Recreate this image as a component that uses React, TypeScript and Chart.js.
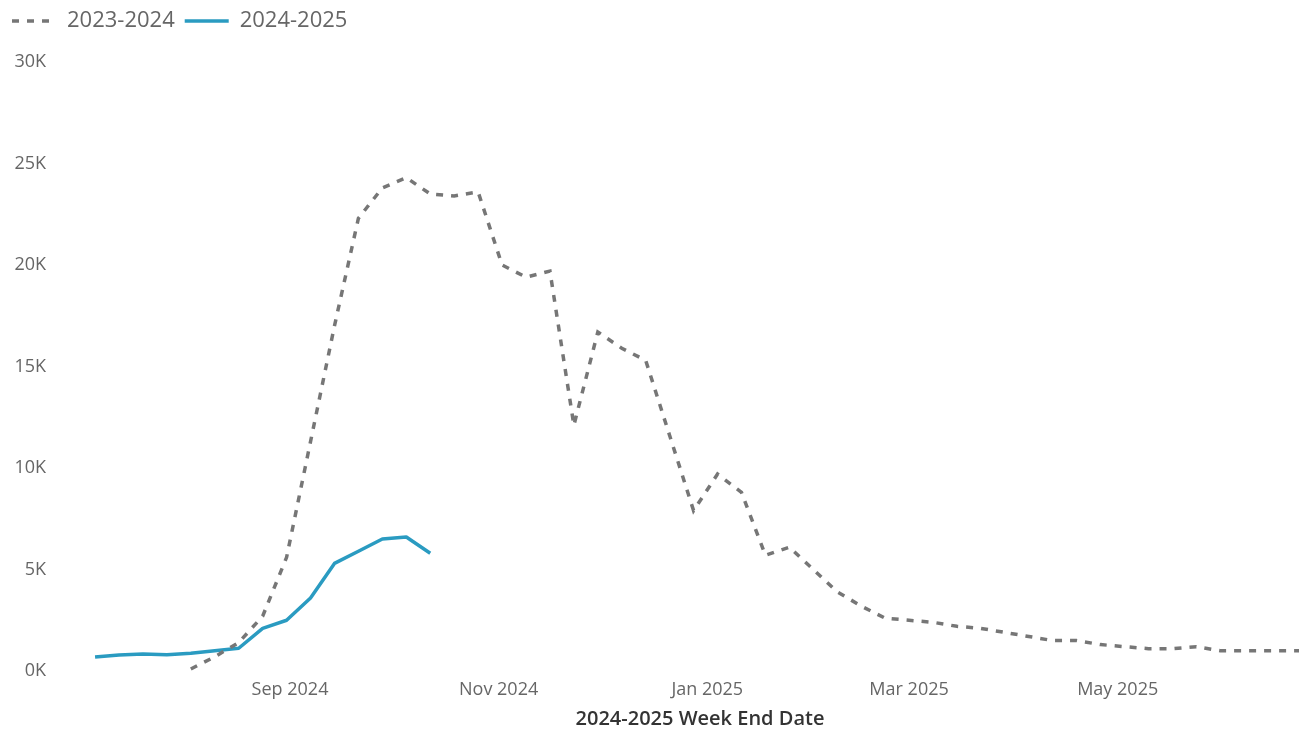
import { useEffect, useRef } from 'react';
import { Chart, registerables } from 'chart.js';

Chart.register(...registerables);

// ---------- data ----------
const seriesNames = ['2023-2024', '2024-2025'];

const weeks2324 = [
  '2024-08-03', '2024-08-10', '2024-08-17', '2024-08-24', '2024-08-31',
  '2024-09-07', '2024-09-14', '2024-09-21', '2024-09-28',
  '2024-10-05', '2024-10-12', '2024-10-19', '2024-10-26',
  '2024-11-02', '2024-11-09', '2024-11-16', '2024-11-23', '2024-11-30',
  '2024-12-07', '2024-12-14', '2024-12-21', '2024-12-28',
  '2025-01-04', '2025-01-11', '2025-01-18', '2025-01-25',
  '2025-02-01', '2025-02-08', '2025-02-15', '2025-02-22',
  '2025-03-01', '2025-03-08', '2025-03-15', '2025-03-22', '2025-03-29',
  '2025-04-05', '2025-04-12', '2025-04-19', '2025-04-26',
  '2025-05-03', '2025-05-10', '2025-05-17', '2025-05-24', '2025-05-31',
  '2025-06-07', '2025-06-14', '2025-06-21', '2025-06-28',
];
const values2324 = [
  100, 700, 1400, 2700, 5600,
  11300, 17000, 22300, 23800,
  24300, 23500, 23400, 23600,
  20000, 19400, 19700, 12100, 16700,
  15900, 15300, 11600, 7900,
  9700, 8800, 5700, 6100,
  5000, 3900, 3200, 2600,
  2500, 2400, 2200, 2100, 1900,
  1700, 1500, 1500, 1300,
  1200, 1100, 1100, 1200, 1000,
  1000, 1000, 1000, 1000,
];

const weeks2425 = [
  '2024-07-06', '2024-07-13', '2024-07-20', '2024-07-27',
  '2024-08-03', '2024-08-10', '2024-08-17', '2024-08-24', '2024-08-31',
  '2024-09-07', '2024-09-14', '2024-09-21', '2024-09-28',
  '2024-10-05', '2024-10-12',
];
const values2425 = [
  690, 790, 840, 800,
  870, 1000, 1120, 2100, 2500,
  3600, 5300, 5900, 6500,
  6600, 5800,
];

const xTickDates = ['2024-09-01', '2024-11-01', '2025-01-01', '2025-03-01', '2025-05-01'];
const xTickLabels = ['Sep 2024', 'Nov 2024', 'Jan 2025', 'Mar 2025', 'May 2025'];
const yTickValues = [0, 5000, 10000, 15000, 20000, 25000, 30000];
const xAxisTitle = '2024-2025 Week End Date';

// ---------- helpers ----------
const toMs = (s: string) => Date.parse(s + 'T00:00:00Z');
const X_MIN = Date.UTC(2024, 5, 25, 18);
const X_MAX = Date.UTC(2025, 6, 5, 0);

const FONT = "'Open Sans', 'Noto Sans', sans-serif";
const GRAY = '#767676';
const BLUE = '#2A9BC1';
const LABEL = '#666666';
const GRAY_DASH = [7, 8];

const legendSpacer = {
  id: 'legendSpacer',
  beforeUpdate(chart: any) {
    const lg = chart.legend;
    if (lg && !lg.__patched) {
      const orig = lg.fit;
      lg.fit = function () {
        orig.call(this);
        this.height += 20;
      };
      lg.__patched = true;
    }
  },
};

export default function App() {
  const ref = useRef<HTMLCanvasElement>(null);

  useEffect(() => {
    if (!ref.current) return;
    const baseGenerate = (Chart.defaults as any).plugins.legend.labels.generateLabels;
    const chart = new Chart(ref.current, {
      type: 'line',
      data: {
        datasets: [
          {
            label: seriesNames[0],
            data: weeks2324.map((d, i) => ({ x: toMs(d), y: values2324[i] })),
            borderColor: GRAY,
            backgroundColor: GRAY,
            borderWidth: 3.5,
            borderDash: GRAY_DASH,
            pointRadius: 0,
            tension: 0,
            fill: false,
          },
          {
            label: seriesNames[1],
            data: weeks2425.map((d, i) => ({ x: toMs(d), y: values2425[i] })),
            borderColor: BLUE,
            backgroundColor: BLUE,
            borderWidth: 3.5,
            borderJoinStyle: 'round',
            pointRadius: 0,
            tension: 0,
            fill: false,
          },
        ],
      },
      options: {
        responsive: false,
        animation: false,
        devicePixelRatio: 1,
        layout: { padding: { left: 2, top: 0, right: 0, bottom: 0 } },
        plugins: {
          tooltip: { enabled: false },
          legend: {
            position: 'top',
            align: 'start',
            labels: {
              usePointStyle: true,
              pointStyle: 'line',
              pointStyleWidth: 44,
              padding: 10,
              color: LABEL,
              font: { family: FONT, size: 22 },
              generateLabels: (c: any) =>
                baseGenerate(c).map((item: any) => {
                  const ds = c.data.datasets[item.datasetIndex];
                  return {
                    ...item,
                    strokeStyle: ds.borderColor,
                    fillStyle: ds.borderColor,
                    lineWidth: ds.borderWidth,
                    lineDash: ds.borderDash || [],
                  };
                }),
            },
          },
        },
        scales: {
          x: {
            type: 'linear',
            min: X_MIN,
            max: X_MAX,
            grid: { display: false, drawTicks: false },
            border: { display: false },
            afterBuildTicks: (scale: any) => {
              scale.ticks = xTickDates.map((d) => ({ value: toMs(d) }));
            },
            ticks: {
              autoSkip: false,
              maxRotation: 0,
              padding: 8,
              color: LABEL,
              font: { family: FONT, size: 18 },
              callback: (_v: any, i: number) => xTickLabels[i],
            },
            title: {
              display: true,
              text: xAxisTitle,
              color: '#333333',
              font: { family: FONT, size: 20, weight: '600' },
              padding: { top: 0, bottom: 0 },
            },
            afterFit: (scale: any) => {
              scale.height = 60;
            },
          },
          y: {
            type: 'linear',
            min: 0,
            max: 30000,
            grid: { display: false, drawTicks: false },
            border: { display: false },
            afterBuildTicks: (scale: any) => {
              scale.ticks = yTickValues.map((v) => ({ value: v }));
            },
            ticks: {
              padding: 14,
              color: LABEL,
              font: { family: FONT, size: 18 },
              callback: (v: any) => `${Number(v) / 1000}K`,
            },
            afterFit: (scale: any) => {
              scale.width = 58;
            },
          },
        },
      },
      plugins: [legendSpacer],
    } as any);
    return () => chart.destroy();
  }, []);

  return (
    <div
      style={{
        position: 'absolute',
        left: 0,
        top: 0,
        width: 1299,
        height: 731,
        overflow: 'hidden',
        background: '#ffffff',
      }}
    >
      <canvas ref={ref} width={1340} height={731} style={{ display: 'block' }} />
    </div>
  );
}
